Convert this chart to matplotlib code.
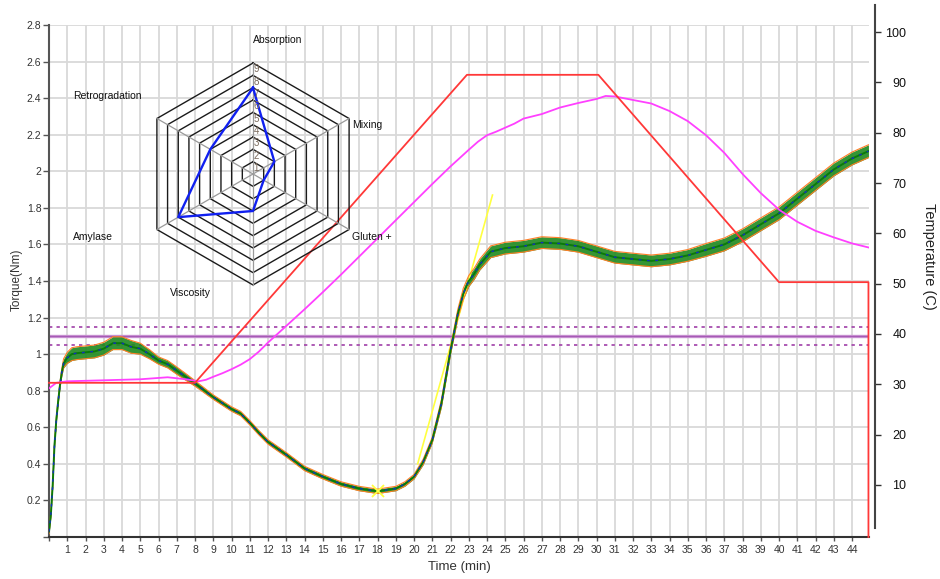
import matplotlib
matplotlib.use('Agg')
import matplotlib.pyplot as plt
import numpy as np

plt.rcParams['font.family'] = ['Liberation Sans', 'DejaVu Sans']

# ---------------- data ----------------
time_min = [0.0, 0.1, 0.2, 0.3, 0.4, 0.5, 0.6, 0.7, 0.8, 1.0, 1.25, 1.5, 2.0, 2.5,
            3.0, 3.5, 4.0, 4.5, 5.0, 5.5, 6.0, 6.5, 7.0, 7.5, 8.0, 9, 10, 10.5, 11,
            11.5, 12, 13, 14, 15, 16, 17, 18, 19, 19.5, 20, 20.5, 21, 21.5, 22,
            22.4, 22.7, 23, 23.3, 23.6, 24.2, 25, 26, 27, 28, 29, 30, 31, 32, 33,
            34, 35, 36, 37, 38, 39, 40, 41, 42, 43, 44, 44.9]
torque = [0.03, 0.12, 0.28, 0.50, 0.64, 0.74, 0.83, 0.90, 0.95, 0.98, 1.00, 1.005,
          1.01, 1.015, 1.03, 1.06, 1.06, 1.04, 1.03, 1.00, 0.965, 0.945, 0.91,
          0.875, 0.84, 0.765, 0.70, 0.675, 0.625, 0.57, 0.52, 0.45, 0.375, 0.33,
          0.29, 0.265, 0.25, 0.265, 0.29, 0.33, 0.41, 0.53, 0.73, 1.02, 1.22,
          1.33, 1.40, 1.44, 1.49, 1.56, 1.58, 1.59, 1.61, 1.605, 1.59, 1.56, 1.53,
          1.52, 1.51, 1.52, 1.54, 1.57, 1.60, 1.65, 1.71, 1.77, 1.85, 1.93, 2.01,
          2.07, 2.11]
noise_band = [0.012, 0.012, 0.012, 0.012, 0.012, 0.012, 0.015, 0.02, 0.025, 0.03,
              0.035, 0.035, 0.035, 0.035, 0.035, 0.035, 0.035, 0.035, 0.03, 0.025,
              0.02, 0.02, 0.02, 0.018, 0.015, 0.012, 0.012, 0.012, 0.012, 0.012,
              0.012, 0.012, 0.012, 0.012, 0.012, 0.012, 0.012, 0.012, 0.012, 0.012,
              0.015, 0.015, 0.02, 0.02, 0.025, 0.03, 0.03, 0.03, 0.03, 0.032, 0.032,
              0.032, 0.032, 0.032, 0.032, 0.032, 0.032, 0.032, 0.032, 0.032, 0.032,
              0.035, 0.035, 0.035, 0.035, 0.035, 0.035, 0.035, 0.035, 0.035, 0.035]

set_time = [0, 8, 22.9, 30.1, 40, 44.9, 44.9]
set_temp = [30.3, 30.3, 91.5, 91.5, 50.3, 50.3, -0.34]

act_time = [0, 0.4, 1, 3, 5, 6.5, 7.5, 8.2, 8.6, 9, 9.5, 10, 10.5, 11, 11.5, 12,
            13, 14, 15, 16, 17, 18, 19, 20, 21, 22, 23, 23.5, 24, 24.5, 25, 25.5,
            26, 27, 28, 29, 30, 30.5, 31, 32, 33, 34, 35, 36, 37, 38, 39, 40, 41,
            42, 43, 44, 44.9]
act_temp = [29.2, 30.3, 30.6, 30.8, 31.0, 31.4, 31.0, 30.6, 30.9, 31.5, 32.2, 33.0,
            33.9, 35.0, 36.5, 38.3, 41.6, 44.9, 48.3, 51.8, 55.4, 59.0, 62.6, 66.2,
            69.8, 73.3, 76.6, 78.2, 79.5, 80.2, 81.0, 81.8, 82.8, 83.7, 85.0, 85.9,
            86.7, 87.3, 87.2, 86.5, 85.8, 84.3, 82.3, 79.5, 76.0, 71.8, 68.0, 64.7,
            62.3, 60.5, 59.2, 58.0, 57.2]

tangent_time = [20.2, 24.3]
tangent_torque = [0.40, 1.87]
min_marker = (18.0, 0.25)

target_line = 1.10
tolerance = 0.05

radar_labels = ['Absorption', 'Mixing', 'Gluten +', 'Viscosity', 'Amylase', 'Retrogradation']
radar_values = [7, 2, 1, 3, 7, 4]
radar_levels = list(range(1, 10))

x_ticks = list(range(0, 45))
x_ticklabels = [''] + [str(i) for i in range(1, 45)]
y_ticks = [round(0.2 * i, 1) for i in range(0, 15)]
y_ticklabels = [''] + [f"{v:g}" for v in y_ticks[1:]]
temp_ticks = [10, 20, 30, 40, 50, 60, 70, 80, 90, 100]

# ---------------- figure ----------------
W, H = 940, 579
fig = plt.figure(figsize=(W / 100, H / 100), dpi=100)


def px_box(x0, y0, x1, y1):
    return [x0 / W, 1 - y1 / H, (x1 - x0) / W, (y1 - y0) / H]


ax = fig.add_axes(px_box(49, 25, 869, 537))
ax.set_xlim(0, 44.93)
ax.set_ylim(0, 2.8)
ax.set_xticks(x_ticks)
ax.set_xticklabels(x_ticklabels)
ax.set_yticks(y_ticks)
ax.set_yticklabels(y_ticklabels)
ax.grid(True, color='#d9d9d9', lw=1.3)
ax.set_axisbelow(True)
ax.tick_params(axis='y', length=4, width=1, color='#555555', labelsize=7.5,
               labelcolor='#333333', pad=1.5)
ax.tick_params(axis='x', length=3, width=1, color='#555555', labelsize=7.5,
               labelcolor='#333333', pad=3)
for s in ['top', 'right']:
    ax.spines[s].set_visible(False)
ax.spines['left'].set_color('#555555')
ax.spines['left'].set_linewidth(1.5)
ax.spines['bottom'].set_color('#333333')
ax.spines['bottom'].set_linewidth(1.5)

# target lines
ax.axhline(target_line, color='#c68fd0', lw=2.4, zorder=2)
ax.axhline(target_line, color='#a050b0', lw=0.6, zorder=2)
for v in (target_line - tolerance, target_line + tolerance):
    ax.axhline(v, color='#a040a8', lw=1.2, ls=(0, (2, 2.5)), zorder=2)

# torque curve
t = np.array(time_min)
y = np.array(torque)
hw = np.array(noise_band)
ax.fill_between(t, y - hw, y + hw, color='#1f8a1f', alpha=0.9, lw=0, zorder=3)
ax.plot(t, y + hw, color='#ff7f27', lw=0.8, zorder=4)
ax.plot(t, y - hw, color='#ff7f27', lw=0.8, zorder=4)
ax.plot(t, y, color='#0a7a0a', lw=1.4, zorder=4)
ax.plot(t, y, color='#1030c0', lw=1.0, ls=(0, (2, 4)), zorder=5)

# tangent
ax.plot(tangent_time, tangent_torque, color='#ffff40', lw=1.2, zorder=3)
ax.plot([min_marker[0]], [min_marker[1]], marker='x', color='#ffff40', ms=9,
        mew=1.3, zorder=6)

# temperature axis
ax2 = ax.twinx()
ax2.set_ylim(-0.34, 101.4)
ax2.patch.set_visible(False)
for s in ['left', 'top', 'bottom']:
    ax2.spines[s].set_visible(False)
ax2.spines['right'].set_position(('outward', 4.3))
ax2.spines['right'].set_bounds(1.45, 105.4)
ax2.spines['right'].set_color('#444444')
ax2.spines['right'].set_linewidth(1.5)
ax2.set_yticks(temp_ticks)
ax2.set_yticklabels([str(v) for v in temp_ticks])
ax2.tick_params(axis='y', length=4, width=1, color='#333333', labelsize=9,
                labelcolor='#111111', pad=18.5)
for lbl in ax2.get_yticklabels():
    lbl.set_ha('right')

ax2.plot(act_time, act_temp, color='#ff40ff', lw=1.3, zorder=3)
ax2.plot(set_time, set_temp, color='#ff3838', lw=1.3, zorder=3, clip_on=False)

# axis titles
fig.text(17 / W, 1 - 280 / H, 'Torque(Nm)', rotation=90, ha='center', va='center',
         fontsize=8.5, color='#333333')
fig.text(459 / W, 1 - 567 / H, 'Time (min)', ha='center', va='center',
         fontsize=9.5, color='#333333')
fig.text(929 / W, 1 - 256 / H, 'Temperature (C)', rotation=270, ha='center',
         va='center', fontsize=10.5, color='#222222')

# radar inset
PX_PER_LEVEL = 12.33
rax = fig.add_axes(px_box(60, 30, 420, 310))
rax.set_xlim(-193 / PX_PER_LEVEL, 167 / PX_PER_LEVEL)
rax.set_ylim(-136 / PX_PER_LEVEL, 144 / PX_PER_LEVEL)
rax.axis('off')
rax.patch.set_alpha(0)

angles = np.deg2rad([90, 30, -30, -90, -150, 150])
ca, sa = np.cos(angles), np.sin(angles)
for lv in radar_levels:
    xs = np.append(lv * ca, lv * ca[0])
    ys = np.append(lv * sa, lv * sa[0])
    rax.plot(xs, ys, color='#1a1a1a', lw=1.0)
maxlv = max(radar_levels)
for c, s in zip(ca, sa):
    rax.plot([0, maxlv * c], [0, maxlv * s], color='#9a9a9a', lw=0.9)
for lv in radar_levels:
    rax.text(0.28, lv - 0.5, str(lv), fontsize=7, color='#7a6a5c',
             ha='center', va='center')
vals = np.array(radar_values, dtype=float)
rax.plot(np.append(vals * ca, vals[0] * ca[0]), np.append(vals * sa, vals[0] * sa[0]),
         color='#1020f0', lw=1.7)

label_pos = [(0.0, 10.87), (8.03, 3.97), (8.03, -5.11), (-6.73, -9.65),
             (-14.6, -5.11), (-14.6, 6.33)]
for name, (lx, ly) in zip(radar_labels, label_pos):
    rax.text(lx, ly, name, fontsize=7.5, color='#111111', ha='left', va='center')

fig.savefig('out.png', dpi=100)
